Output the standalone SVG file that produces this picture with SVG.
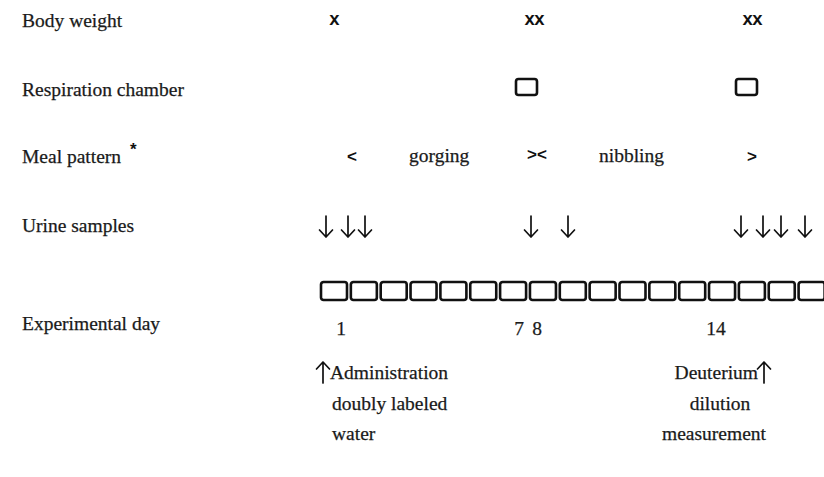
<svg xmlns="http://www.w3.org/2000/svg" width="824" height="477" viewBox="0 0 824 477">
  <defs>
    <style>
      .lbl { font-family: "Liberation Serif", "Times New Roman", serif; font-size: 19.5px; fill: #1a1a1a; stroke: #1a1a1a; stroke-width: 0.25; }
      .mark { font-family: "Liberation Mono", "Courier New", monospace; font-size: 18px; font-weight: bold; fill: #111; letter-spacing: -1px; }
      .sym { font-family: "Liberation Sans", Arial, sans-serif; font-size: 17px; font-weight: bold; fill: #111; }
      .box { fill: none; stroke: #111; stroke-width: 2.6; }
      .arr { fill: none; stroke: #111; stroke-width: 1.7; stroke-linecap: round; stroke-linejoin: round; }
    </style>
    <!-- downward arrow, tip at origin -->
    <g id="down">
      <path class="arr" d="M0,-21 V0 M-6.5,-7 L0,0 L6.5,-7"/>
    </g>
    <!-- upward arrow, tip at origin -->
    <g id="up">
      <path class="arr" d="M0,21 V0 M-6.5,7 L0,0 L6.5,7"/>
    </g>
    <rect id="day" class="box" width="26" height="18" rx="2.5"/>
  </defs>
  <rect width="824" height="477" fill="#fff"/>

  <!-- row headings -->
  <g id="row-labels">
    <text class="lbl" x="22" y="27">Body weight</text>
    <text class="lbl" x="22" y="96">Respiration chamber</text>
    <text class="lbl" x="22" y="163">Meal pattern</text>
    <text class="sym" x="130" y="155" font-size="14">*</text>
    <text class="lbl" x="22" y="232">Urine samples</text>
    <text class="lbl" x="22" y="330">Experimental day</text>
  </g>

  <!-- body weight marks -->
  <g id="body-weight">
    <text class="mark" x="334" y="25" text-anchor="middle">x</text>
    <text class="mark" x="534" y="25" text-anchor="middle">xx</text>
    <text class="mark" x="752" y="25" text-anchor="middle">xx</text>
  </g>

  <!-- respiration chamber sessions -->
  <g id="chamber">
    <rect class="box" x="516" y="79" width="21" height="16" rx="2.5"/>
    <rect class="box" x="736" y="79" width="21" height="16" rx="2.5"/>
  </g>

  <!-- meal pattern periods -->
  <g id="meal-pattern">
    <text class="sym" x="352" y="162" text-anchor="middle">&lt;</text>
    <text class="lbl" x="409" y="162" font-size="20.5">gorging</text>
    <text class="sym" x="537" y="160" text-anchor="middle" font-size="13">&gt;&lt;</text>
    <text class="lbl" x="599" y="162" font-size="20.5">nibbling</text>
    <text class="sym" x="752" y="162" text-anchor="middle">&gt;</text>
  </g>

  <!-- urine sampling days -->
  <g id="urine-samples">
    <use href="#down" x="326" y="237"/>
    <use href="#down" x="348" y="237"/>
    <use href="#down" x="365" y="237"/>
    <use href="#down" x="531" y="237"/>
    <use href="#down" x="568" y="237"/>
    <use href="#down" x="741" y="237"/>
    <use href="#down" x="763" y="237"/>
    <use href="#down" x="781" y="237"/>
    <use href="#down" x="805" y="237"/>
  </g>

  <!-- seventeen experimental day cells -->
  <g id="days">
    <use href="#day" x="321" y="282"/>
    <use href="#day" x="350.85" y="282"/>
    <use href="#day" x="380.7" y="282"/>
    <use href="#day" x="410.55" y="282"/>
    <use href="#day" x="440.4" y="282"/>
    <use href="#day" x="470.25" y="282"/>
    <use href="#day" x="500.1" y="282"/>
    <use href="#day" x="529.95" y="282"/>
    <use href="#day" x="559.8" y="282"/>
    <use href="#day" x="589.65" y="282"/>
    <use href="#day" x="619.5" y="282"/>
    <use href="#day" x="649.35" y="282"/>
    <use href="#day" x="679.2" y="282"/>
    <use href="#day" x="709.05" y="282"/>
    <use href="#day" x="738.9" y="282"/>
    <use href="#day" x="768.75" y="282"/>
    <use href="#day" x="798.6" y="282"/>
  </g>

  <!-- day numbers -->
  <g id="day-numbers">
    <text class="lbl" x="341" y="335" text-anchor="middle">1</text>
    <text class="lbl" x="519" y="335" text-anchor="middle">7</text>
    <text class="lbl" x="537" y="335" text-anchor="middle">8</text>
    <text class="lbl" x="716" y="335" text-anchor="middle">14</text>
  </g>

  <!-- dose administration note -->
  <g id="administration">
    <use href="#up" x="323" y="362"/>
    <text class="lbl" x="330" y="379">Administration</text>
    <text class="lbl" x="332" y="410">doubly labeled</text>
    <text class="lbl" x="332" y="440">water</text>
  </g>

  <!-- dilution measurement note -->
  <g id="deuterium">
    <text class="lbl" x="758" y="379" text-anchor="end">Deuterium</text>
    <use href="#up" x="764" y="362"/>
    <text class="lbl" x="720" y="410" text-anchor="middle">dilution</text>
    <text class="lbl" x="714" y="440" text-anchor="middle">measurement</text>
  </g>
</svg>
